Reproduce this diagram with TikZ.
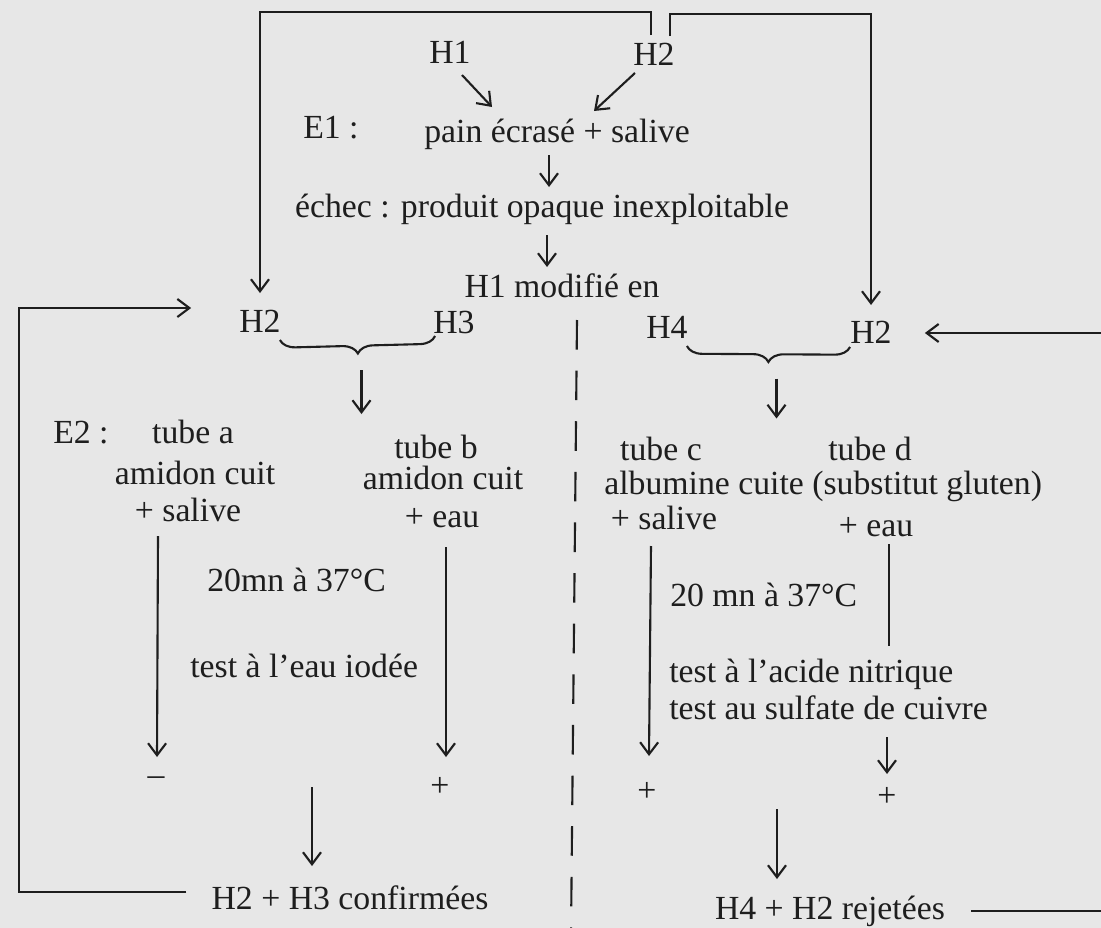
\documentclass[tikz,border=0pt]{standalone}
\usepackage{fontspec}
\setmainfont{Liberation Serif}
\usetikzlibrary{arrows.meta,calc,decorations.pathreplacing}
\definecolor{papier}{RGB}{231,231,231}
\definecolor{encre}{RGB}{30,30,30}

\begin{document}
\begin{tikzpicture}[x=0.025cm,y=-0.025cm,
  txt/.style={font=\fontsize{24}{28}\selectfont,inner sep=0pt,anchor=base,text=encre},
  signe/.style={font=\fontsize{24}{28}\selectfont,inner sep=0pt,text=encre},
  fl/.style={-{Straight Barb[length=3mm,width=4.5mm]},line width=1.5pt,draw=encre},
  trait/.style={line width=1.5pt,draw=encre},
  acc/.style={trait,decorate,decoration={brace,mirror,amplitude=11pt}}]
  \fill[papier] (0,0) rectangle (1101,928);
  \useasboundingbox (0,0) rectangle (1101,928);

  % E1
  \node[txt] (h1) at (450,63) {H1};
  \node[txt] (h2t) at (654,65) {H2};
  \node[txt,anchor=base west] (e1) at (303,138) {E1 :};
  \node[txt] (pain) at (557,142) {pain écrasé + salive};
  \node[txt] (echec) at (542,217) {échec : produit opaque inexploitable};
  \node[txt] (modif) at (562,297) {H1 modifié en};

  \draw[fl] ([shift={(12,12)}]h1.base) -- ([shift={(-65,-35)}]pain.base);
  \draw[fl] ([shift={(-19,8)}]h2t.base) -- ([shift={(37,-31)}]pain.base);
  \draw[fl] ([shift={(-8,13)}]pain.base) -- ([shift={(7,-30)}]echec.base);
  \draw[fl] ([shift={(5,18)}]echec.base) -- ([shift={(-15,-30)}]modif.base);

  % hypotheses
  \node[txt] (h2l) at (260,332) {H2};
  \node[txt] (h3) at (454,333) {H3};
  \node[txt] (h4) at (667,338) {H4};
  \node[txt] (h2r) at (871,343) {H2};

  \draw[fl] ([shift={(-3,-30)}]h2t.base) -- ++(0,-23) -| ([shift={(0,-39)}]h2l.base);
  \draw[fl] ([shift={(16,-29)}]h2t.base) -- ++(0,-22) -| ([shift={(0,-38)}]h2r.base);

  \coordinate (ba1) at ([shift={(-1,8)}]h2l.base east);
  \coordinate (ba2) at ([shift={(2,3)}]h3.base west);
  \coordinate (bb1) at ([shift={(-1,8)}]h4.base east);
  \coordinate (bb2) at ([shift={(0,4)}]h2r.base west);
  \draw[acc] (ba1) -- (ba2);
  \draw[acc] (bb1) -- (bb2);
  \draw[fl] ($(ba1)!.5!(ba2)+(4,32)$) -- ++(0,44);
  \draw[fl] ($(bb1)!.5!(bb2)+(8,32)$) -- ++(0,40);

  % separation
  \draw[trait,dash pattern=on 21pt off 15pt] (577,320) -- (571,935);

  % E2 left
  \node[txt,anchor=base west] (e2) at (53,443) {E2 :};
  \node[txt] (tubea) at (193,443) {tube a};
  \node[txt] (amida) at (195,484) {amidon cuit};
  \node[txt] (sala) at (188,521) {+ salive};
  \node[txt] (tubeb) at (436,458) {tube b};
  \node[txt] (amidb) at (443,489) {amidon cuit};
  \node[txt] (eaub) at (442,527) {+ eau};
  \node[txt,anchor=base west] (t20a) at (207,591) {20mn à 37°C};
  \node[txt,anchor=base west] (iod) at (190,677) {test à l'eau iodée};
  \node[signe] (mna) at (156,781) {\textendash};
  \node[signe] (plb) at (440,787) {+};
  \node[txt] (conf) at (350,909) {H2 + H3 confirmées};

  \draw[fl] ([shift={(-30,15)}]sala.base) -- ([shift={(1,-24)}]mna.center);
  \draw[fl] ([shift={(4,20)}]eaub.base) -- ([shift={(6,-30)}]plb.center);
  \draw[fl] ([shift={(-38,-122)}]conf.base) -- ([shift={(-38,-43)}]conf.base);

  % E2 right
  \node[txt] (tubec) at (661,460) {tube c};
  \node[txt,anchor=base west] (albu) at (604,494) {albumine cuite (substitut gluten)};
  \node[txt] (salc) at (664,529) {+ salive};
  \node[txt] (tubed) at (870,460) {tube d};
  \node[txt] (eaud) at (876,536) {+ eau};
  \node[txt,anchor=base west] (t20c) at (670,606) {20 mn à 37°C};
  \node[txt,anchor=base west] (nitr) at (669,682) {test à l'acide nitrique};
  \node[txt,anchor=base west] (cuiv) at (669,719) {test au sulfate de cuivre};
  \node[signe] (plc) at (647,792) {+};
  \node[signe] (pld) at (887,797) {+};
  \node[txt] (rej) at (830,919) {H4 + H2 rejetées};

  \draw[fl] ([shift={(-13,17)}]salc.base) -- ([shift={(2,-36)}]plc.center);
  \draw[trait] ([shift={(13,8)}]eaud.base) -- ++(0,102);
  \draw[fl] ([shift={(218,18)}]cuiv.base west) -- ([shift={(0,-23)}]pld.center);
  \draw[fl] ([shift={(-53,-110)}]rej.base) -- ([shift={(-53,-40)}]rej.base);

  % retours
  \draw[fl] ([shift={(-25,-17)}]conf.base west) -- ++(-167,0) |- ([shift={(-48,-24)}]h2l.base west);
  \draw[fl] ([shift={(26,-8)}]rej.base east) -- ++(150,0) |- ([shift={(33,-10)}]h2r.base east);
\end{tikzpicture}
\end{document}
